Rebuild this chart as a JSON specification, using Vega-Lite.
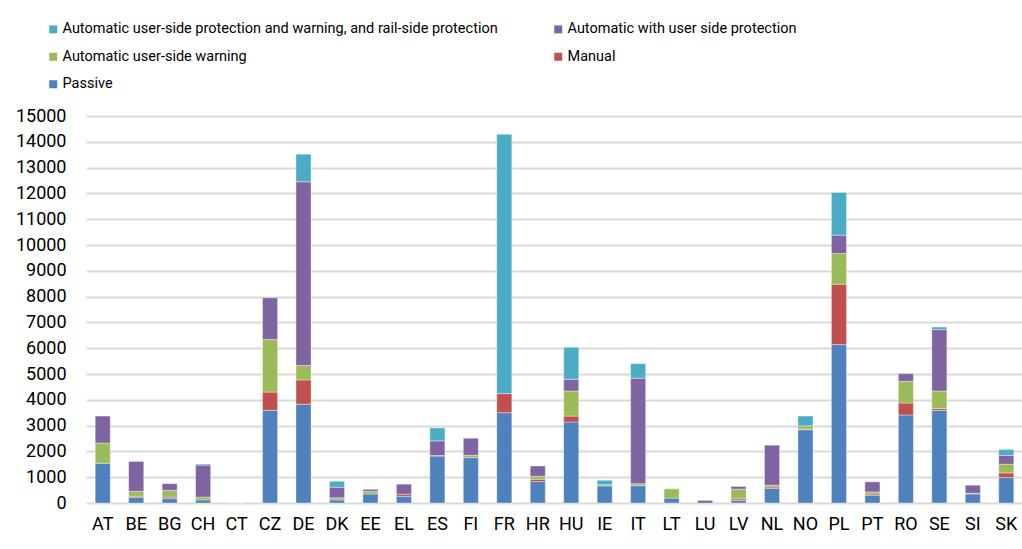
{
  "$schema": "https://vega.github.io/schema/vega-lite/v6.json",
  "width": 937,
  "height": 387,
  "autosize": {"type": "none"},
  "padding": {"left": 86, "top": 116, "right": 0, "bottom": 46},
  "background": "white",
  "config": {"view": {"stroke": null}, "font": "Roboto"},
  "datasets": {
    "d": [
      {"c": "AT", "t": "Passive", "v": 1540},
      {"c": "AT", "t": "Automatic user-side warning", "v": 785},
      {"c": "AT", "t": "Automatic with user side protection", "v": 1045},
      {"c": "BE", "t": "Passive", "v": 210},
      {"c": "BE", "t": "Manual", "v": 50},
      {"c": "BE", "t": "Automatic user-side warning", "v": 190},
      {"c": "BE", "t": "Automatic with user side protection", "v": 1160},
      {"c": "BG", "t": "Passive", "v": 170},
      {"c": "BG", "t": "Manual", "v": 60},
      {"c": "BG", "t": "Automatic user-side warning", "v": 260},
      {"c": "BG", "t": "Automatic with user side protection", "v": 260},
      {"c": "CH", "t": "Passive", "v": 120},
      {"c": "CH", "t": "Automatic user-side warning", "v": 110},
      {"c": "CH", "t": "Automatic with user side protection", "v": 1240},
      {"c": "CH", "t": "Automatic user-side protection and warning, and rail-side protection", "v": 40},
      {"c": "CT", "t": "Passive", "v": 0},
      {"c": "CZ", "t": "Passive", "v": 3590},
      {"c": "CZ", "t": "Manual", "v": 710},
      {"c": "CZ", "t": "Automatic user-side warning", "v": 2040},
      {"c": "CZ", "t": "Automatic with user side protection", "v": 1615},
      {"c": "DE", "t": "Passive", "v": 3830},
      {"c": "DE", "t": "Manual", "v": 940},
      {"c": "DE", "t": "Automatic user-side warning", "v": 560},
      {"c": "DE", "t": "Automatic with user side protection", "v": 7120},
      {"c": "DE", "t": "Automatic user-side protection and warning, and rail-side protection", "v": 1070},
      {"c": "DK", "t": "Passive", "v": 120},
      {"c": "DK", "t": "Automatic user-side warning", "v": 80},
      {"c": "DK", "t": "Automatic with user side protection", "v": 410},
      {"c": "DK", "t": "Automatic user-side protection and warning, and rail-side protection", "v": 230},
      {"c": "EE", "t": "Passive", "v": 350},
      {"c": "EE", "t": "Automatic user-side warning", "v": 100},
      {"c": "EE", "t": "Automatic with user side protection", "v": 80},
      {"c": "EL", "t": "Passive", "v": 260},
      {"c": "EL", "t": "Manual", "v": 80},
      {"c": "EL", "t": "Automatic with user side protection", "v": 390},
      {"c": "ES", "t": "Passive", "v": 1820},
      {"c": "ES", "t": "Automatic user-side warning", "v": 20},
      {"c": "ES", "t": "Automatic with user side protection", "v": 570},
      {"c": "ES", "t": "Automatic user-side protection and warning, and rail-side protection", "v": 500},
      {"c": "FI", "t": "Passive", "v": 1760},
      {"c": "FI", "t": "Automatic user-side warning", "v": 90},
      {"c": "FI", "t": "Automatic with user side protection", "v": 660},
      {"c": "FR", "t": "Passive", "v": 3500},
      {"c": "FR", "t": "Manual", "v": 740},
      {"c": "FR", "t": "Automatic user-side protection and warning, and rail-side protection", "v": 10050},
      {"c": "HR", "t": "Passive", "v": 830},
      {"c": "HR", "t": "Manual", "v": 90},
      {"c": "HR", "t": "Automatic user-side warning", "v": 115},
      {"c": "HR", "t": "Automatic with user side protection", "v": 400},
      {"c": "HU", "t": "Passive", "v": 3140},
      {"c": "HU", "t": "Manual", "v": 230},
      {"c": "HU", "t": "Automatic user-side warning", "v": 970},
      {"c": "HU", "t": "Automatic with user side protection", "v": 455},
      {"c": "HU", "t": "Automatic user-side protection and warning, and rail-side protection", "v": 1240},
      {"c": "IE", "t": "Passive", "v": 660},
      {"c": "IE", "t": "Automatic user-side warning", "v": 50},
      {"c": "IE", "t": "Automatic user-side protection and warning, and rail-side protection", "v": 170},
      {"c": "IT", "t": "Passive", "v": 670},
      {"c": "IT", "t": "Automatic user-side warning", "v": 80},
      {"c": "IT", "t": "Automatic with user side protection", "v": 4090},
      {"c": "IT", "t": "Automatic user-side protection and warning, and rail-side protection", "v": 560},
      {"c": "LT", "t": "Passive", "v": 190},
      {"c": "LT", "t": "Automatic user-side warning", "v": 360},
      {"c": "LT", "t": "Automatic user-side protection and warning, and rail-side protection", "v": 10},
      {"c": "LU", "t": "Automatic with user side protection", "v": 100},
      {"c": "LV", "t": "Passive", "v": 100},
      {"c": "LV", "t": "Manual", "v": 60},
      {"c": "LV", "t": "Automatic user-side warning", "v": 380},
      {"c": "LV", "t": "Automatic with user side protection", "v": 100},
      {"c": "NL", "t": "Passive", "v": 570},
      {"c": "NL", "t": "Manual", "v": 50},
      {"c": "NL", "t": "Automatic user-side warning", "v": 70},
      {"c": "NL", "t": "Automatic with user side protection", "v": 1550},
      {"c": "NO", "t": "Passive", "v": 2840},
      {"c": "NO", "t": "Manual", "v": 20},
      {"c": "NO", "t": "Automatic user-side warning", "v": 130},
      {"c": "NO", "t": "Automatic user-side protection and warning, and rail-side protection", "v": 380},
      {"c": "PL", "t": "Passive", "v": 6140},
      {"c": "PL", "t": "Manual", "v": 2340},
      {"c": "PL", "t": "Automatic user-side warning", "v": 1190},
      {"c": "PL", "t": "Automatic with user side protection", "v": 710},
      {"c": "PL", "t": "Automatic user-side protection and warning, and rail-side protection", "v": 1655},
      {"c": "PT", "t": "Passive", "v": 300},
      {"c": "PT", "t": "Manual", "v": 50},
      {"c": "PT", "t": "Automatic user-side warning", "v": 80},
      {"c": "PT", "t": "Automatic with user side protection", "v": 390},
      {"c": "RO", "t": "Passive", "v": 3410},
      {"c": "RO", "t": "Manual", "v": 465},
      {"c": "RO", "t": "Automatic user-side warning", "v": 840},
      {"c": "RO", "t": "Automatic with user side protection", "v": 300},
      {"c": "SE", "t": "Passive", "v": 3590},
      {"c": "SE", "t": "Manual", "v": 70},
      {"c": "SE", "t": "Automatic user-side warning", "v": 680},
      {"c": "SE", "t": "Automatic with user side protection", "v": 2380},
      {"c": "SE", "t": "Automatic user-side protection and warning, and rail-side protection", "v": 100},
      {"c": "SI", "t": "Passive", "v": 350},
      {"c": "SI", "t": "Automatic user-side warning", "v": 30},
      {"c": "SI", "t": "Automatic with user side protection", "v": 310},
      {"c": "SK", "t": "Passive", "v": 985},
      {"c": "SK", "t": "Manual", "v": 180},
      {"c": "SK", "t": "Automatic user-side warning", "v": 340},
      {"c": "SK", "t": "Automatic with user side protection", "v": 340},
      {"c": "SK", "t": "Automatic user-side protection and warning, and rail-side protection", "v": 230}
    ]
  },
  "data": {"name": "d"},
  "transform": [
    {"calculate": "indexof(['Passive', 'Manual', 'Automatic user-side warning', 'Automatic with user side protection', 'Automatic user-side protection and warning, and rail-side protection'], datum.t)", "as": "k"}
  ],
  "mark": {"type": "bar", "stroke": "white", "strokeWidth": 0.6, "strokeOpacity": 0.6},
  "encoding": {
    "x": {
      "field": "c",
      "type": "nominal",
      "sort": null,
      "scale": {"paddingInner": 0.55, "paddingOuter": 0.275},
      "axis": {
        "title": null,
        "labelAngle": 0,
        "labelFontSize": 18,
        "labelColor": "#000000",
        "labelPadding": 12,
        "ticks": false,
        "domain": false
      }
    },
    "y": {
      "field": "v",
      "type": "quantitative",
      "stack": "zero",
      "scale": {"domain": [0, 15000], "nice": false},
      "axis": {
        "title": null,
        "values": [0, 1000, 2000, 3000, 4000, 5000, 6000, 7000, 8000, 9000, 10000, 11000, 12000, 13000, 14000, 15000],
        "format": "d",
        "labelFontSize": 18,
        "labelColor": "#000000",
        "labelPadding": 20,
        "ticks": false,
        "domain": false,
        "gridColor": "#d9d9d9",
        "gridWidth": 2
      }
    },
    "order": {"field": "k", "type": "quantitative", "sort": "ascending"},
    "color": {
      "field": "t",
      "type": "nominal",
      "scale": {
        "domain": [
          "Automatic user-side protection and warning, and rail-side protection",
          "Automatic with user side protection",
          "Automatic user-side warning",
          "Manual",
          "Passive"
        ],
        "range": ["#4bacc6", "#8064a2", "#9bbb59", "#c0504d", "#4f81bd"]
      },
      "legend": {
        "title": null,
        "orient": "none",
        "legendX": -40,
        "legendY": -94,
        "direction": "horizontal",
        "columns": 2,
        "columnPadding": 53,
        "rowPadding": 12.5,
        "symbolType": "square",
        "symbolSize": 64,
        "symbolStrokeWidth": 0,
        "symbolOffset": 0,
        "labelOffset": 2,
        "labelFontSize": 14.5,
        "labelColor": "#000000",
        "labelLimit": 600
      }
    }
  }
}
